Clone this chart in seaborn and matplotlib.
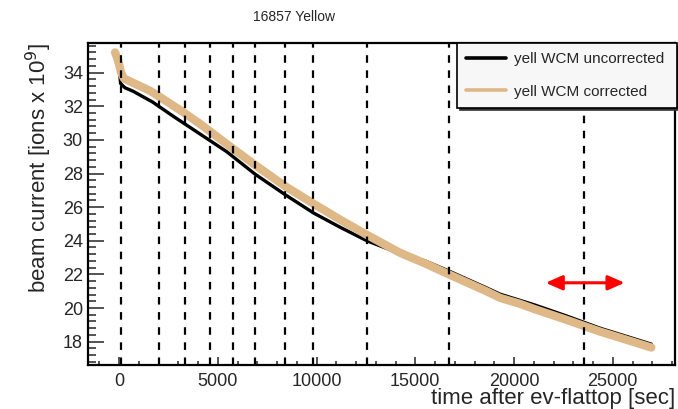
import matplotlib
matplotlib.use("Agg")
import matplotlib.pyplot as plt
import pandas as pd
import seaborn as sns
from matplotlib.lines import Line2D
from matplotlib.patches import FancyArrowPatch
from matplotlib.ticker import MultipleLocator

# Wall current monitor intensity vs. time after ev-flattop
time_corr = [-200, -100, 0, 100, 250, 700, 1600, 2400, 3250, 4100, 4950, 5800,
             6900, 8400, 9850, 11200, 12550, 14200, 15500, 16700, 18600, 19300,
             20300, 21000, 22650, 24350, 26000, 26950]
wcm_corr = [35.2, 34.9, 34.5, 34.0, 33.65, 33.4, 32.9, 32.3, 31.65, 30.95, 30.2,
            29.45, 28.5, 27.25, 26.2, 25.25, 24.35, 23.3, 22.65, 22.0, 21.0, 20.6,
            20.25, 19.95, 19.3, 18.6, 18.0, 17.65]

time_uncorr = [-150, 0, 80, 300, 700, 1700, 2750, 4100, 5450, 6900, 8400, 9850,
               11200, 12550, 14200, 15500, 16700, 18600, 19300, 21000, 22650,
               24350, 26000, 26950]
wcm_uncorr = [35.0, 34.3, 33.35, 33.1, 32.9, 32.25, 31.4, 30.35, 29.3, 27.95,
              26.75, 25.65, 24.8, 24.0, 23.25, 22.8, 22.2, 21.2, 20.82, 20.2,
              19.53, 18.8, 18.2, 17.85]

# Store boundaries (sec) marked with dashed lines
marker_times = [100, 2030, 3340, 4600, 5790, 6900, 8420, 9830, 12540, 16720, 23550]

# Range indicator
arrow_start, arrow_end, arrow_level = 21600, 25600, 21.5

series_names = ["yell WCM uncorrected", "yell WCM corrected"]
series_colors = ["black", "#deb887"]

sns.set_style("white")
plt.rcParams["font.family"] = ["Liberation Sans", "DejaVu Sans"]

fig = plt.figure(figsize=(6.78, 4.09), dpi=100)
ax = fig.add_axes([0.1304, 0.1088, 0.8652, 0.7868])

df_unc = pd.DataFrame({"t": time_uncorr, "I": wcm_uncorr})
df_cor = pd.DataFrame({"t": time_corr, "I": wcm_corr})
sns.lineplot(data=df_unc, x="t", y="I", color=series_colors[0], linewidth=2.4,
             ax=ax, legend=False, sort=False)
sns.lineplot(data=df_cor, x="t", y="I", color=series_colors[1], linewidth=6,
             ax=ax, legend=False, sort=False)

for t in marker_times:
    ax.axvline(t, color="black", linewidth=1.6, linestyle=(0, (3.4, 3.4)), zorder=3)

arrow = FancyArrowPatch((arrow_start, arrow_level), (arrow_end, arrow_level),
                        arrowstyle="<|-|>,head_length=0.5,head_width=0.22",
                        mutation_scale=20, color="#ff0000", linewidth=2.2,
                        shrinkA=0, shrinkB=0, zorder=4)
ax.add_patch(arrow)

ax.set_xlim(-1550, 28150)
ax.set_ylim(16.64, 35.78)
ax.xaxis.set_major_locator(MultipleLocator(5000))
ax.xaxis.set_minor_locator(MultipleLocator(1000))
ax.yaxis.set_major_locator(MultipleLocator(2))
ax.yaxis.set_minor_locator(MultipleLocator(0.4))
ax.tick_params(axis="x", which="major", direction="in", length=6, width=1.1,
               labelsize=13, pad=6, top=False, bottom=True)
ax.tick_params(axis="x", which="minor", direction="in", length=3, width=1.1,
               top=False, bottom=True)
ax.tick_params(axis="y", which="major", direction="in", length=11.5, width=1.1,
               labelsize=13, pad=4, left=True, right=False)
ax.tick_params(axis="y", which="minor", direction="in", length=5.8, width=1.1,
               left=True, right=False)
for sp in ax.spines.values():
    sp.set_linewidth(1.6)
    sp.set_color("black")

ax.set_xlabel("time after ev-flattop [sec]", fontsize=16, loc="right", labelpad=-1)
ax.set_ylabel("beam current [ions x 10$^9$]", fontsize=16, loc="top", labelpad=6)

handles = [Line2D([], [], color=c, linewidth=2.6) for c in series_colors]
leg = fig.legend(handles, series_names, loc="upper left",
                 bbox_to_anchor=(457 / 678, 1 - 104 / 409, 220 / 678, 61 / 409),
                 mode="expand", borderaxespad=0, fontsize=11, frameon=True,
                 fancybox=False, shadow={"color": "#333333", "alpha": 1.0},
                 handlelength=2.6, handletextpad=0.55, labelspacing=1.2,
                 borderpad=0.6)
leg.get_frame().set_edgecolor("black")
leg.get_frame().set_linewidth(1.2)
leg.get_frame().set_facecolor("#f7f7f7")
leg.get_frame().set_alpha(1.0)

fig.text(294 / 678, 1 - 17 / 409, "16857 Yellow", ha="center", va="center",
         fontsize=10)

fig.savefig("out.png", dpi=100)
